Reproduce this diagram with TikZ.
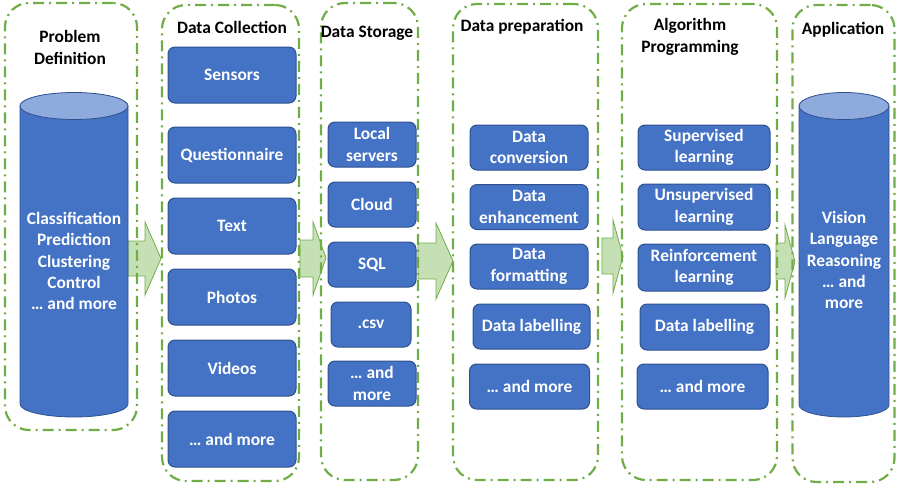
\documentclass[tikz,border=0pt]{standalone}
\usepackage{fontspec}
\setmainfont{Carlito}
\definecolor{gr}{HTML}{70AD47}
\definecolor{arrfill}{HTML}{C5E0B4}
\definecolor{bl}{HTML}{4472C4}
\definecolor{bldark}{HTML}{2F528F}
\definecolor{bltop}{HTML}{8FAADC}
\newcommand\fsz{\fontsize{17.4}{21.4}\selectfont\bfseries}
\tikzset{
 stage/.style={draw=gr, line width=2.2pt, dash pattern=on 11pt off 5pt on 2pt off 5pt, rounded corners=24pt, inner sep=0pt},
 blk/.style={draw=bldark, fill=bl, line width=1pt, rounded corners=7pt, text=white, font=\fsz, align=center, inner sep=0pt},
 ttl/.style={font=\fsz, align=center, text=black, inner sep=0pt},
 cyltxt/.style={font=\fsz, align=center, text=white, inner sep=0pt},
 barrow/.style={draw=gr, fill=arrfill, line width=0.8pt, line join=miter},
 cylbody/.style={fill=bl, draw=bldark, line width=0.8pt},
 cyltop/.style={fill=bltop, draw=bldark, line width=0.8pt}
}
\newcommand\blockarrow[8]{%
 \draw[barrow] (#1,#4) -- (#2,#4) -- (#2,#6) -- (#3,#8) -- (#2,#7) -- (#2,#5) -- (#1,#5) -- cycle;}
\begin{document}
\begin{tikzpicture}[x=1pt,y=-1pt]
\useasboundingbox (0,0) rectangle (900,488);
% block arrows
\blockarrow{128}{145}{161}{241}{276}{222}{295}{258.5}
\blockarrow{300}{313}{326}{240}{277}{222}{295}{258}
\blockarrow{418}{436}{453}{243}{279}{223}{299}{261}
\blockarrow{602}{613}{623}{238}{274}{220}{293}{256.5}
\blockarrow{776}{785}{795}{243}{279}{225}{298}{261.5}
% stages
\node[stage, minimum width=132pt, minimum height=427pt] (s1) at (71,216.5) {};
\node[stage, minimum width=137pt, minimum height=476pt] (s2) at (230.5,243) {};
\node[stage, minimum width=97pt, minimum height=477pt] (s3) at (369.5,241.5) {};
\node[stage, minimum width=145pt, minimum height=476pt] (s4) at (525.5,242) {};
\node[stage, minimum width=155pt, minimum height=476pt] (s5) at (699.5,242) {};
\node[stage, minimum width=102pt, minimum height=477pt] (s6) at (843.5,243.5) {};
% titles
\node[ttl] (t1) at (70,47.5) {Problem\\Definition};
\node[ttl] (t2) at (232,27) {Data Collection};
\node[ttl] (t3) at (367,33) {Data Storage};
\node[ttl] (t4) at (522,27) {Data preparation};
\node[ttl] (t5) at (690,37) {Algorithm\\Programming};
\node[ttl] (t6) at (843,30) {Application};
% cylinder 1
\path[cylbody] (20,106) -- (20,404) arc[start angle=180,end angle=360,x radius=54pt,y radius=13pt] -- (128,106) arc[start angle=0,end angle=180,x radius=54pt,y radius=13pt] -- cycle;
\path[cyltop] (74,106) ellipse [x radius=54pt, y radius=13.5pt];
\node[cyltxt] (pd) at (74,261) {Classification\\Prediction\\Clustering\\Control\\… and more};
% cylinder 2
\path[cylbody] (799,106) -- (799,405) arc[start angle=180,end angle=360,x radius=45pt,y radius=12pt] -- (889,106) arc[start angle=0,end angle=180,x radius=45pt,y radius=12pt] -- cycle;
\path[cyltop] (844,106) ellipse [x radius=45pt, y radius=13.5pt];
\node[cyltxt] (ap) at (844,260) {Vision\\Language\\Reasoning\\… and\\more};
% data collection
\node[blk, minimum width=128pt, minimum height=56pt] (c1) at (232,75) {Sensors};
\node[blk, minimum width=128pt, minimum height=56pt] (c2) at (232,155) {Questionnaire};
\node[blk, minimum width=128pt, minimum height=56pt] (c3) at (232,226) {Text};
\node[blk, minimum width=128pt, minimum height=56pt] (c4) at (232,297) {Photos};
\node[blk, minimum width=128pt, minimum height=56pt] (c5) at (232,368) {Videos};
\node[blk, minimum width=128pt, minimum height=56pt] (c6) at (232,439) {… and more};
% data storage
\node[blk, minimum width=88pt, minimum height=45pt] (d1) at (372,144.5) {Local\\servers};
\node[blk, minimum width=88pt, minimum height=45pt] (d2) at (372,204.5) {Cloud};
\node[blk, minimum width=88pt, minimum height=45pt] (d3) at (372,264.5) {SQL};
\node[blk, minimum width=80pt, minimum height=45pt] (d4) at (371,324.5) {.csv};
\node[blk, minimum width=88pt, minimum height=45pt] (d5) at (372,383.5) {… and\\more};
% data preparation
\node[blk, minimum width=118pt, minimum height=45pt] (p1) at (529,147.5) {Data\\conversion};
\node[blk, minimum width=118pt, minimum height=45pt] (p2) at (529,207) {Data\\enhancement};
\node[blk, minimum width=118pt, minimum height=45pt] (p3) at (529,266.5) {Data\\formatting};
\node[blk, minimum width=117pt, minimum height=45pt] (p4) at (531.5,326.5) {Data labelling};
\node[blk, minimum width=120pt, minimum height=45pt] (p5) at (529.5,386.5) {… and more};
% algorithm programming
\node[blk, minimum width=132pt, minimum height=45pt] (a1) at (704,147.5) {Supervised\\learning};
\node[blk, minimum width=132pt, minimum height=46pt] (a2) at (704,207) {Unsupervised\\learning};
\node[blk, minimum width=132pt, minimum height=47pt] (a3) at (704,267.5) {Reinforcement\\learning};
\node[blk, minimum width=129pt, minimum height=46pt] (a4) at (704.5,327) {Data labelling};
\node[blk, minimum width=131pt, minimum height=45pt] (a5) at (702.5,386.5) {… and more};
\end{tikzpicture}
\end{document}
